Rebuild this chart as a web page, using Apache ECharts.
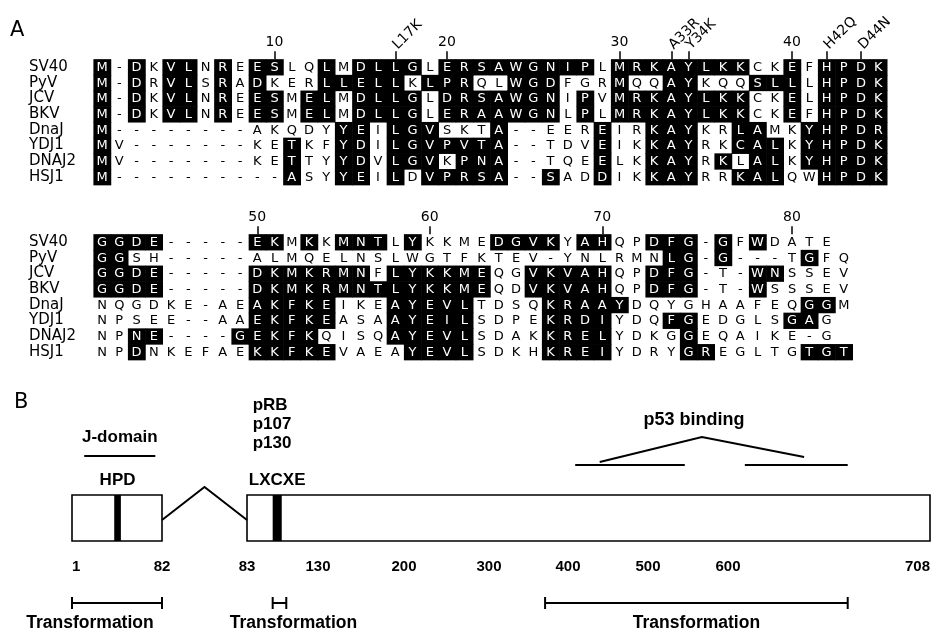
<!DOCTYPE html>
<html lang="en">
<head>
<meta charset="UTF-8">
<title>T antigen J-domain alignment</title>
<script src="https://cdn.jsdelivr.net/npm/echarts@6.0.0/dist/echarts.min.js"></script>
<style>
    html, body {margin: 0; padding: 0; background: #fff;}
    #chart {width: 943px; height: 630px;}
</style>
</head>
<body>
<div id="chart"></div>
<script>
// ---- panel A: alignment ----
var names = ['SV40', 'PyV', 'JCV', 'BKV', 'DnaJ', 'YDJ1', 'DNAJ2', 'HSJ1'];

// SV40 residues 1-45
var block1 = [
    'M-DKVLNREESLQLMDLLGLERSAWGNIPLMRKAYLKKCKEFHPDK',
    'M-DRVLSRADKERLLELLKLPRQLWGDFGRMQQAYKQQSLLLHPDK',
    'M-DKVLNREESMELMDLLGLDRSAWGNIPVMRKAYLKKCKELHPDK',
    'M-DKVLNREESMELMDLLGLERAAWGNLPLMRKAYLKKCKEFHPDK',
    'M--------AKQDYYEILGVSKTA--EEREIRKAYKRLAMKYHPDR',
    'MV-------KETKFYDILGVPVTA--TDVEIKKAYRKCALKYHPDK',
    'MV-------KETTYYDVLGVKPNA--TQEELKKAYRKLALKYHPDK',
    'M----------ASYYEILDVPRSA--SADDIKKAYRRKALQWHPDK'
];
// 1 = white letter on black
var block1Shade = [
    '1010110101100101111011111111101111111100101111',
    '1010110101000111110111001110001001100011101111',
    '1010110101101101111011111110101111111100101111',
    '1010110101101101111011111110101111111100101111',
    '1000000000000011011100010000010011100110011111',
    '1000000000010011011111110000010011100111011111',
    '1000000000010011011101110000010011101011011111',
    '1000000000010011010111110010010011100111001111'
];

// SV40 residues 46-82
var block2 = [
    'GGDE-----EKMKKMNTLYKKMEDGVKYAHQPDFG-GFWDATE',
    'GGSH-----ALMQELNSLWGTFKTEV-YNLRMNLG-G---TGFQ',
    'GGDE-----DKMKRMNFLYKKMEQGVKVAHQPDFG-T-WNSSEV',
    'GGDE-----DKMKRMNTLYKKMEQDVKVAHQPDFG-T-WSSSEV',
    'NQGDKE-AEAKFKEIKEAYEVLTDSQKRAAYDQYGHAAFEQGGM',
    'NPSEE--AAEKFKEASAAYEILSDPEKRDIYDQFGEDGLSGAG',
    'NPNE----GEKFKQISQAYEVLSDAKKRELYDKGGEQAIKE-G',
    'NPDNKEFAEKKFKEVAEAYEVLSDKHKREIYDRYGREGLTGTGT'
];
var block2Shade = [
    '1111000001101011101000011110110011101010000',
    '11000000000000000000000000000000011010000100',
    '11110000011111110111111001111100111000110000',
    '11110000011111111111111001111100111000100000',
    '00000000011111000111110000111110000000000110',
    '0000000001111100011111000011110001100000110',
    '0011000011111000011111000011110000100000000',
    '00100000011111000011110000111100001100000111'
];

var block1Start = 1;
var block2Start = 46;
var block1Numbers = [10, 20, 30, 40];
var block2Numbers = [50, 60, 70, 80];
var mutations = ['L17K', 'A33R', 'Y34K', 'H42Q', 'D44N'];

// ---- panel B: domain map of SV40 T antigen ----
var domains = [[1, 82], [83, 708]];
var motifs = [
    {name: 'HPD', from: 39, to: 45},
    {name: 'LXCXE', from: 100, to: 106}
];
var jDomain = [12, 76];
var pocketBinders = ['pRB', 'p107', 'p130'];
var p53Regions = [[409, 546], [609, 664]];
var transformRegions = [[1, 82], [100, 109], [371, 664]];
var mapTicks = [1, 82, 83, 130, 200, 300, 400, 500, 600, 708];

// schematic (not to scale): where each tick residue sits across the page
var schemeX = [72, 162, 247, 318, 404, 489, 568, 648, 728, 930];
function resX(r) {
    for (var i = 1; i < mapTicks.length; i++) {
        if (r <= mapTicks[i] || i === mapTicks.length - 1) {
            var a = mapTicks[i - 1], b = mapTicks[i];
            return schemeX[i - 1] + (r - a) / (b - a) * (schemeX[i] - schemeX[i - 1]);
        }
    }
}

var FONT = 'DejaVu Sans';
var BOLD = 'Liberation Sans';
var cols = 46;
var colW = 17.25, rowH = 15.7;
var alignLeft = 93.4;

function residueCols(seq, start) {
    var map = {}, n = start;
    for (var i = 0; i < seq.length; i++) {
        if (seq[i] !== '-') { map[n] = i; n++; }
    }
    return map;
}
var cols1 = residueCols(block1[0], block1Start);
var cols2 = residueCols(block2[0], block2Start);

function labelMap(items, colMap) {
    var m = {};
    items.forEach(function (n) {
        var r = parseInt(String(n).replace(/^\D+/, ''), 10);
        m[colMap[r]] = String(n);
    });
    return m;
}
var numLab1 = labelMap(block1Numbers, cols1);
var mutLab1 = labelMap(mutations, cols1);
var numLab2 = labelMap(block2Numbers, cols2);

function cellData(seqs, shades) {
    var data = [], letters = [];
    seqs.forEach(function (s, r) {
        for (var c = 0; c < s.length; c++) {
            data.push([c, r, shades[r][c] === '1' ? 1 : 0]);
            letters.push(s[c]);
        }
    });
    return {data: data, letters: letters};
}
var cells1 = cellData(block1, block1Shade);
var cells2 = cellData(block2, block2Shade);

function cellRenderer(letters) {
    return function (params, api) {
        var p = api.coord([api.value(0), api.value(1)]);
        var s = api.size([1, 1]);
        var dark = api.value(2) === 1;
        var kids = [];
        if (dark) {
            kids.push({
                type: 'rect',
                shape: {x: p[0] - s[0] / 2, y: p[1] - s[1] / 2, width: s[0] + 0.6, height: s[1] + 0.6},
                style: {fill: '#000'}
            });
        }
        kids.push({
            type: 'text',
            style: {
                x: p[0], y: p[1] + 0.5, text: letters[params.dataIndex],
                fill: dark ? '#fff' : '#000',
                font: '13px ' + FONT,
                align: 'center', verticalAlign: 'middle'
            }
        });
        return {type: 'group', children: kids};
    };
}

var colCats = [];
for (var i = 0; i < cols; i++) colCats.push(String(i));

function topAxis(grid, labels, rotate, margin) {
    var pick = function (idx) { return labels[idx] !== undefined; };
    var lab = {
        interval: pick, rotate: rotate, margin: margin, color: '#000',
        fontFamily: FONT, fontSize: 14,
        formatter: function (v) { return labels[v] || ''; }
    };
    if (rotate) { lab.align = 'left'; lab.verticalAlign = 'middle'; }
    return {
        type: 'category', gridIndex: grid, position: 'top', data: colCats,
        axisLine: {show: false},
        axisTick: {show: true, alignWithLabel: true, interval: pick, length: 8,
            lineStyle: {color: '#000', width: 1.5}},
        axisLabel: lab,
        splitLine: {show: false}
    };
}
function nameAxis(grid) {
    return {
        type: 'category', gridIndex: grid, inverse: true, data: names,
        axisLine: {show: false}, axisTick: {show: false},
        axisLabel: {interval: 0, align: 'left', margin: alignLeft - 29, color: '#000',
            fontFamily: FONT, fontSize: 15}
    };
}

// ---- panel B renderer ----
var boxTop = 495, boxH = 46;
var featDefs = [];
domains.forEach(function (d) { featDefs.push({kind: 'box', a: d[0], b: d[1]}); });
motifs.forEach(function (m) { featDefs.push({kind: 'motif', a: m.from, b: m.to, name: m.name}); });
featDefs.push({kind: 'loop', a: domains[0][1], b: domains[1][0]});
featDefs.push({kind: 'jdomain', a: jDomain[0], b: jDomain[1]});
featDefs.push({kind: 'pocket', a: motifs[1].from, b: motifs[1].to});
p53Regions.forEach(function (d) { featDefs.push({kind: 'p53', a: d[0], b: d[1]}); });
featDefs.push({kind: 'p53tri', a: p53Regions[0][0], b: p53Regions[1][1]});
transformRegions.forEach(function (d, i) { featDefs.push({kind: 'transf', a: d[0], b: d[1], idx: i}); });
mapTicks.forEach(function (t, i) { featDefs.push({kind: 'tick', a: t, b: t, idx: i}); });
var featData = featDefs.map(function (f, i) { return [resX(f.a), resX(f.b), i]; });

function boldText(x, y, t, size, align) {
    return {type: 'text', style: {x: x, y: y, text: t, fill: '#000',
        font: 'bold ' + size + 'px ' + BOLD, align: align || 'center', verticalAlign: 'middle'}};
}
function segment(x1, y1, x2, y2) {
    return {type: 'line', shape: {x1: x1, y1: y1, x2: x2, y2: y2}, style: {stroke: '#000', lineWidth: 2}};
}

function featRenderer(params, api) {
    var f = featDefs[params.dataIndex];
    var p1 = api.coord([api.value(0), boxTop]);
    var p2 = api.coord([api.value(1), boxTop]);
    var x1 = p1[0], x2 = p2[0], y = p1[1];
    var xm = (x1 + x2) / 2;
    switch (f.kind) {
        case 'box':
            return {type: 'rect', shape: {x: x1, y: y, width: x2 - x1, height: boxH},
                style: {fill: '#fff', stroke: '#000', lineWidth: 1.6}};
        case 'motif':
            return {type: 'group', children: [
                {type: 'rect', shape: {x: x1, y: y, width: x2 - x1, height: boxH}, style: {fill: '#000'}},
                boldText(xm, y - 15, f.name, 17)
            ]};
        case 'loop':
            return {type: 'polyline', shape: {points: [[x1, y + 25], [xm, y - 8], [x2, y + 25]]},
                style: {stroke: '#000', fill: 'none', lineWidth: 2}};
        case 'jdomain':
            return {type: 'group', children: [
                segment(x1, y - 39, x2, y - 39),
                boldText(xm, y - 58, 'J-domain', 17)
            ]};
        case 'pocket':
            return {type: 'group', children: pocketBinders.map(function (t, i) {
                return boldText(x1 - 20, y - 90 + i * 19, t, 17, 'left');
            })};
        case 'p53':
            return segment(x1, y - 30, x2, y - 30);
        case 'p53tri':
            var w = x2 - x1;
            var left = x1 + 0.09 * w, right = x1 + 0.84 * w;
            return {type: 'group', children: [
                {type: 'polyline', shape: {points: [[left, y - 33], [(left + right) / 2, y - 58], [right, y - 38]]},
                    style: {stroke: '#000', fill: 'none', lineWidth: 2}},
                boldText((left + right) / 2 - 8, y - 75, 'p53 binding', 18)
            ]};
        case 'transf':
            var lx = f.idx === 0 ? x1 + 18 : (f.idx === 1 ? xm + 14 : xm);
            return {type: 'group', children: [
                segment(x1, y + 108, x2, y + 108),
                segment(x1, y + 102, x1, y + 114),
                segment(x2, y + 102, x2, y + 114),
                boldText(lx, y + 128, 'Transformation', 17.5)
            ]};
        case 'tick':
            var al = f.idx === 0 ? 'left' : (f.idx === mapTicks.length - 1 ? 'right' : 'center');
            return boldText(x1, y + 72, String(f.a), 15, al);
    }
}

var chart = echarts.init(document.getElementById('chart'));
chart.setOption({
    animation: false,
    backgroundColor: '#fff',
    grid: [
        {left: alignLeft, top: 59.15, width: cols * colW, height: 8 * rowH},
        {left: alignLeft, top: 234.15, width: cols * colW, height: 8 * rowH},
        {left: 0, top: 0, width: 943, height: 630}
    ],
    xAxis: [
        topAxis(0, numLab1, 0, 10),
        topAxis(0, mutLab1, -45, 12),
        topAxis(1, numLab2, 0, 10),
        {type: 'value', gridIndex: 2, min: 0, max: 943, show: false}
    ],
    yAxis: [
        nameAxis(0),
        nameAxis(1),
        {type: 'value', gridIndex: 2, min: 0, max: 630, inverse: true, show: false}
    ],
    graphic: [
        {type: 'text', left: 10, top: 20, style: {text: 'A', font: '21px ' + FONT, fill: '#000'}},
        {type: 'text', left: 14, top: 392, style: {text: 'B', font: '21px ' + FONT, fill: '#000'}}
    ],
    series: [
        {type: 'custom', xAxisIndex: 0, yAxisIndex: 0, renderItem: cellRenderer(cells1.letters),
            data: cells1.data, silent: true},
        {type: 'custom', xAxisIndex: 2, yAxisIndex: 1, renderItem: cellRenderer(cells2.letters),
            data: cells2.data, silent: true},
        {type: 'custom', xAxisIndex: 3, yAxisIndex: 2, renderItem: featRenderer,
            data: featData, silent: true}
    ]
});
</script>
</body>
</html>
